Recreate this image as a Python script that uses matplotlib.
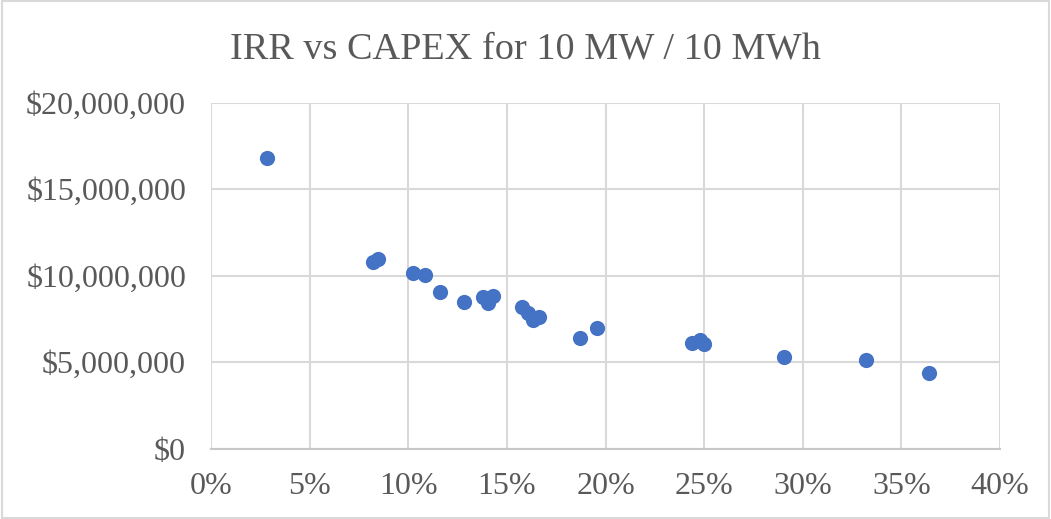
import matplotlib.pyplot as plt
from matplotlib.ticker import FuncFormatter, MultipleLocator
from matplotlib.patches import Rectangle

# IRR (%) and CAPEX ($)
irr = [2.85, 8.2, 8.45, 10.25, 10.85, 11.6, 12.8, 13.8, 14.28, 14.05,
       15.75, 16.08, 16.34, 16.64, 18.7, 19.55, 24.36, 24.78, 24.99,
       29.04, 33.23, 36.39]
capex = [16.83e6, 10.8e6, 10.94e6, 10.18e6, 10.03e6, 9.06e6, 8.45e6, 8.77e6,
         8.81e6, 8.39e6, 8.2e6, 7.81e6, 7.43e6, 7.58e6, 6.37e6, 6.95e6,
         6.08e6, 6.27e6, 6.02e6, 5.31e6, 5.12e6, 4.35e6]

plt.rcParams['font.family'] = ['Liberation Serif', 'DejaVu Serif']

fig = plt.figure(figsize=(10.51, 5.19), dpi=100)
ax = fig.add_axes([0.2008, 0.1358, 0.7507, 0.6663])

ax.scatter(irr, capex, s=120, color='#4472C4', zorder=3, linewidths=0)

ax.set_xlim(0, 40)
ax.set_ylim(0, 20e6)
ax.xaxis.set_major_locator(MultipleLocator(5))
ax.yaxis.set_major_locator(MultipleLocator(5e6))
ax.xaxis.set_major_formatter(FuncFormatter(lambda v, p: f'{v:.0f}%'))
ax.yaxis.set_major_formatter(FuncFormatter(lambda v, p: f'${v:,.0f}'))
ax.grid(True, color='#d9d9d9', linewidth=1.5, zorder=0)
ax.tick_params(length=0, labelsize=23, labelcolor='#595959')
ax.tick_params(axis='x', pad=17)
ax.tick_params(axis='y', pad=18)
for s in ['top', 'right', 'left']:
    ax.spines[s].set_visible(False)
ax.spines['bottom'].set_color('#c8c8c8')
ax.spines['bottom'].set_linewidth(1.5)

fig.text(0.5, 0.888, 'IRR vs CAPEX for 10 MW / 10 MWh', ha='center', va='baseline',
         fontsize=27.5, color='#595959')

fig.patches.append(Rectangle((0.002, 0.002), 0.996, 0.996, transform=fig.transFigure,
                             fill=False, edgecolor='#d9d9d9', linewidth=1.5))

fig.savefig('out.png', dpi=100)
